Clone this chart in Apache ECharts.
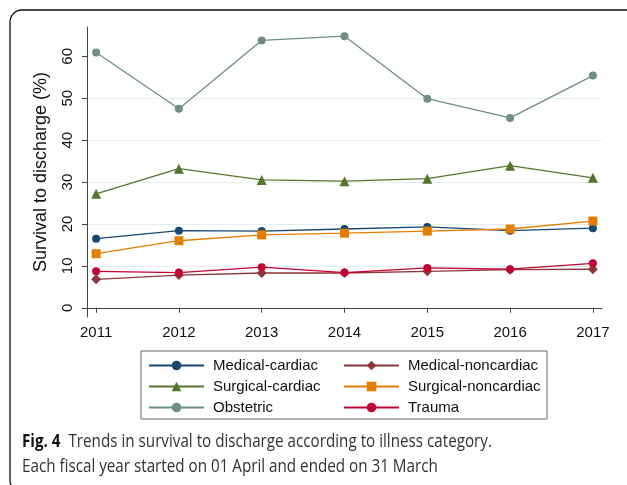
<!DOCTYPE html>
<html>
<head>
<meta charset="utf-8">
<script src="https://cdn.jsdelivr.net/npm/echarts@6/dist/echarts.min.js"></script>
<style>
  html, body { margin: 0; padding: 0; background: #fff; }
  #chart { width: 627px; height: 485px; }
</style>
</head>
<body>
<div id="chart"></div>
<script>
// fiscal years
var years = [2011, 2012, 2013, 2014, 2015, 2016, 2017];
var yTicks = [0, 10, 20, 30, 40, 50, 60];

// survival to discharge (%) per illness category
var medicalCardiac    = [16.5, 18.4, 18.3, 18.8, 19.3, 18.4, 19.0];
var medicalNoncardiac = [6.8, 7.8, 8.3, 8.3, 8.7, 9.1, 9.2];
var surgicalCardiac   = [27.2, 33.2, 30.5, 30.2, 30.8, 33.9, 31.0];
var surgicalNoncard   = [12.9, 16.0, 17.4, 17.8, 18.3, 18.8, 20.7];
var obstetric         = [60.9, 47.5, 63.8, 64.8, 49.9, 45.3, 55.4];
var trauma            = [8.7, 8.4, 9.7, 8.4, 9.5, 9.2, 10.6];

function pairs(vals) {
    return years.map(function (y, i) { return [y, vals[i]]; });
}

function mkSeries(name, vals, color, symbol, size) {
    return {
        name: name,
        type: 'line',
        data: pairs(vals),
        symbol: symbol,
        symbolSize: size,
        showAllSymbol: true,
        lineStyle: { color: color, width: 1.3 },
        itemStyle: { color: color },
        emphasis: { disabled: true },
        animation: false
    };
}

var chart = echarts.init(document.getElementById('chart'));

var legendCommon = {
    orient: 'vertical',
    padding: 0,
    itemWidth: 55,
    itemHeight: 12,
    itemGap: 6,
    selectedMode: false,
    textStyle: {
        fontFamily: 'Liberation Sans',
        fontSize: 15,
        color: '#111',
        lineHeight: 12,
        padding: [0, 0, 0, 4]
    }
};

chart.setOption({
    backgroundColor: '#fff',
    animation: false,
    grid: { left: 87, right: 25, top: 27, bottom: 168, containLabel: false },
    xAxis: {
        type: 'value',
        min: 2010.89,
        max: 2017.11,
        axisLine: { lineStyle: { color: '#444', width: 1 } },
        axisTick: { show: true, length: 5, customValues: years, lineStyle: { color: '#444' } },
        axisLabel: {
            customValues: years,
            formatter: function (v) { return String(v); },
            fontFamily: 'Liberation Sans',
            fontSize: 15,
            color: '#111',
            margin: 8
        },
        splitLine: { show: false }
    },
    yAxis: {
        type: 'value',
        min: -2.2,
        max: 67,
        splitNumber: 7,
        name: 'Survival to discharge (%)',
        nameLocation: 'middle',
        nameGap: 37,
        nameTextStyle: { fontFamily: 'Liberation Sans', fontSize: 18, color: '#111' },
        axisLine: { show: true, lineStyle: { color: '#444', width: 1 } },
        axisTick: { show: true, length: 5, customValues: yTicks, lineStyle: { color: '#444' } },
        axisLabel: {
            customValues: yTicks,
            rotate: 90,
            fontFamily: 'Liberation Sans',
            fontSize: 15,
            color: '#111',
            margin: 12
        },
        splitLine: {
            show: true,
            showMinLine: false,
            showMaxLine: false,
            lineStyle: { color: '#e6efef', width: 1 }
        }
    },
    legend: [
        Object.assign({}, legendCommon, {
            left: 148, top: 358,
            data: ['Medical-cardiac', 'Surgical-cardiac', 'Obstetric']
        }),
        Object.assign({}, legendCommon, {
            left: 343, top: 358,
            data: ['Medical-noncardiac', 'Surgical-noncardiac', 'Trauma']
        })
    ],
    graphic: [
        {
            type: 'rect',
            shape: { x: 10, y: 10, width: 630, height: 482, r: 12 },
            style: { fill: 'none', stroke: '#111', lineWidth: 1.3 },
            silent: true
        },
        {
            type: 'rect',
            shape: { x: 141, y: 351, width: 406, height: 68 },
            style: { fill: 'none', stroke: '#666', lineWidth: 1 },
            silent: true
        },
        {
            type: 'text',
            x: 22, y: 429,
            scaleX: 0.845,
            style: {
                text: '{b|Fig. 4}  Trends in survival to discharge according to illness category.\nEach fiscal year started on 01 April and ended on 31 March',
                fontFamily: 'Open Sans',
                fontSize: 18,
                lineHeight: 25,
                fill: '#333',
                rich: {
                    b: { fontFamily: 'Open Sans', fontWeight: 'bold', fontSize: 18, fill: '#111' }
                }
            },
            silent: true
        }
    ],
    series: [
        mkSeries('Medical-cardiac', medicalCardiac, '#1a476f', 'circle', 8),
        mkSeries('Medical-noncardiac', medicalNoncardiac, '#90353b', 'diamond', 10),
        mkSeries('Surgical-cardiac', surgicalCardiac, '#55752f', 'triangle', 10),
        mkSeries('Surgical-noncardiac', surgicalNoncard, '#e37e00', 'rect', 9),
        mkSeries('Obstetric', obstetric, '#6e8e84', 'circle', 8),
        mkSeries('Trauma', trauma, '#c10534', 'circle', 8)
    ]
});
</script>
</body>
</html>
